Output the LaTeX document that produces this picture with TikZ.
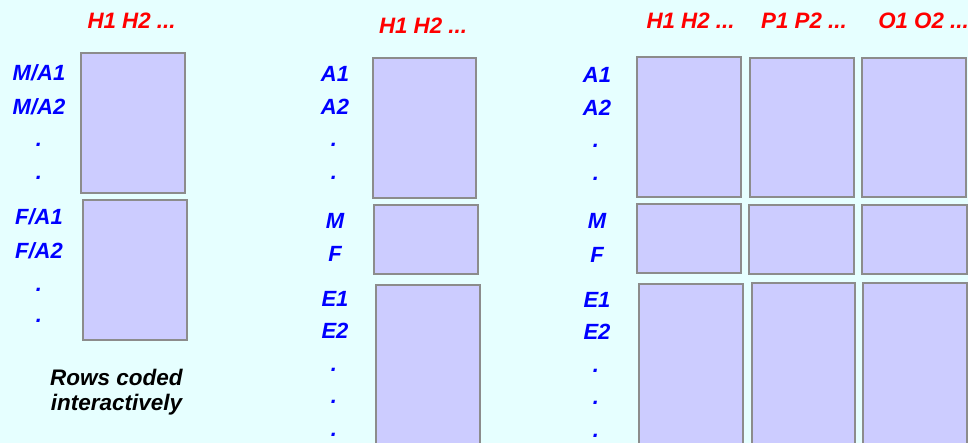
\documentclass[tikz,border=0pt]{standalone}
\usepackage{fontspec}
\setmainfont{Liberation Sans}
\definecolor{bgc}{HTML}{E6FFFF}
\definecolor{boxfill}{HTML}{CCCCFF}
\definecolor{boxline}{HTML}{8C8C8C}
\tikzset{
  box/.style={draw=boxline, fill=boxfill, line width=1.5pt, inner sep=0pt, rectangle},
  lab/.style={text=blue, font=\fontsize{22}{22}\selectfont\bfseries\itshape, anchor=base, inner sep=0pt},
  head/.style={text=red, font=\fontsize{22.3}{22.3}\selectfont\bfseries\itshape, anchor=base, inner sep=0pt},
  note/.style={text=black, font=\fontsize{22.5}{22.5}\selectfont\bfseries\itshape, anchor=base, inner sep=0pt}
}
\begin{document}
\begin{tikzpicture}[x=1pt,y=-1pt]
\useasboundingbox (0,0) rectangle (968,443);
\clip (0,0) rectangle (968,443);
\fill[bgc] (0,0) rectangle (968,443);

% ---------- left panel ----------
\node[head] (hL) at (131.5,29) {H1 H2 ...};
\node[box, minimum width=104pt, minimum height=140pt] (L1) at (133,123) {};
\node[box, minimum width=104pt, minimum height=140pt] (L2) at (135,270) {};
\node[lab] (lma1) at (39,81) {M/A1};
\node[lab] (lma2) at (39,115) {M/A2};
\node[lab] (ld1) at (39,147) {.};
\node[lab] (ld2) at (39,180) {.};
\node[lab] (lfa1) at (39,225) {F/A1};
\node[lab] (lfa2) at (39,259) {F/A2};
\node[lab] (ld3) at (39,291) {.};
\node[lab] (ld4) at (39,323) {.};
\node[note] (n1) at (116.5,385) {Rows coded};
\node[note] (n2) at (116.5,410) {interactively};

% ---------- middle panel ----------
\node[head] (hM) at (423,34) {H1 H2 ...};
\node[box, minimum width=103pt, minimum height=140pt] (M1) at (424.5,128) {};
\node[box, minimum width=104pt, minimum height=69pt] (M2) at (426,239.5) {};
\node[box, minimum width=104pt, minimum height=165pt] (M3) at (428,367.5) {};
\node[lab] (ma1) at (335,82) {A1};
\node[lab] (ma2) at (335,115) {A2};
\node[lab] (md1) at (334,147) {.};
\node[lab] (md2) at (334,180) {.};
\node[lab] (mm) at (335,229) {M};
\node[lab] (mf) at (335,262) {F};
\node[lab] (me1) at (335,306) {E1};
\node[lab] (me2) at (335,338) {E2};
\node[lab] (md3) at (334,371) {.};
\node[lab] (md4) at (334,403) {.};
\node[lab] (md5) at (334,436) {.};

% ---------- right panel ----------
\node[head] (hR1) at (690.5,29) {H1 H2 ...};
\node[head] (hR2) at (804,29) {P1 P2 ...};
\node[head] (hR3) at (923.5,29) {O1 O2 ...};
\node[box, minimum width=104pt, minimum height=140pt] (R1a) at (689,127) {};
\node[box, minimum width=104pt, minimum height=139pt] (R1b) at (802,127.5) {};
\node[box, minimum width=104pt, minimum height=139pt] (R1c) at (914,127.5) {};
\node[box, minimum width=104pt, minimum height=69pt] (R2a) at (689,238.5) {};
\node[box, minimum width=105pt, minimum height=69pt] (R2b) at (801.5,239.5) {};
\node[box, minimum width=105pt, minimum height=69pt] (R2c) at (914.5,239.5) {};
\node[box, minimum width=104pt, minimum height=166pt] (R3a) at (691,367) {};
\node[box, minimum width=103pt, minimum height=167pt] (R3b) at (803.5,366.5) {};
\node[box, minimum width=104pt, minimum height=167pt] (R3c) at (915,366.5) {};
\node[lab] (ra1) at (597,83) {A1};
\node[lab] (ra2) at (597,116) {A2};
\node[lab] (rd1) at (596,148) {.};
\node[lab] (rd2) at (596,181) {.};
\node[lab] (rm) at (597,229) {M};
\node[lab] (rf) at (597,263) {F};
\node[lab] (re1) at (597,307) {E1};
\node[lab] (re2) at (597,339) {E2};
\node[lab] (rd3) at (596,372) {.};
\node[lab] (rd4) at (596,404) {.};
\node[lab] (rd5) at (596,437) {.};
\end{tikzpicture}
\end{document}
